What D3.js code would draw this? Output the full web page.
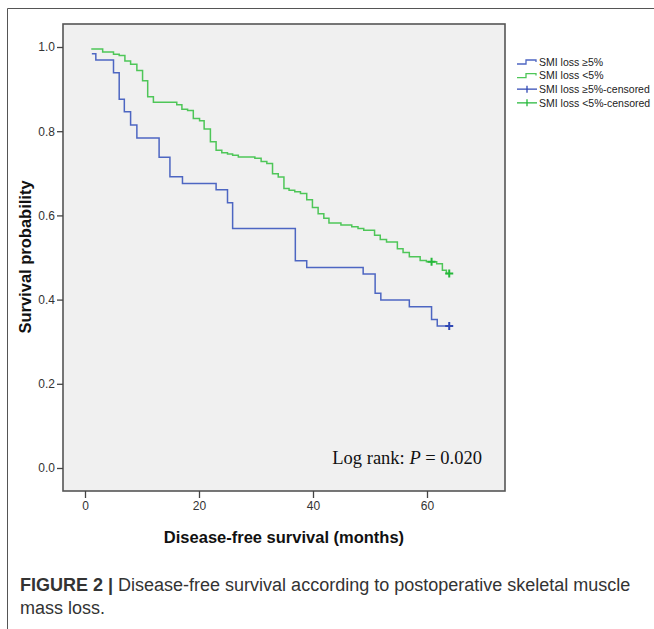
<!DOCTYPE html>
<html>
<head>
<meta charset="utf-8">
<script src="https://cdn.jsdelivr.net/npm/d3@7"></script>
<style>
  body { margin: 0; background: #fff; }
  svg { display: block; }
</style>
</head>
<body>
<div id="chart"></div>
<script>
// KM curves (months, survival probability)
var blueTimes = [1.2, 1.9, 5.0, 6.0, 6.9, 8.0, 9.1, 13.0, 14.9, 17.1, 23.0, 25.0, 25.9, 36.9, 38.9, 48.8, 50.9, 51.9, 56.9, 60.8, 61.8];
var blueSurv = [0.984, 0.969, 0.939, 0.876, 0.846, 0.815, 0.784, 0.738, 0.692, 0.676, 0.661, 0.630, 0.569, 0.492, 0.476, 0.461, 0.415, 0.399, 0.383, 0.353, 0.337];
var blueCensTimes = [63.9];
var blueCensSurv = [0.337];

var greenTimes = [1.1, 3.1, 5.0, 6.0, 7.0, 8.0, 9.1, 10.1, 11.0, 12.0, 16.1, 17.0, 18.0, 19.0, 20.1, 20.9, 22.0, 23.0, 24.0, 25.0,
  25.9, 26.9, 29.8, 30.9, 31.9, 32.9, 33.9, 34.9, 35.8, 36.8, 37.8, 38.9, 39.9, 40.9, 41.9, 42.8, 44.9, 46.8, 47.9, 48.9,
  50.8, 51.8, 52.9, 54.8, 55.8, 56.9, 58.8, 59.9, 61.7, 62.7, 63.4];
var greenSurv = [0.995, 0.988, 0.983, 0.980, 0.967, 0.959, 0.944, 0.920, 0.882, 0.869, 0.863, 0.852, 0.849, 0.830, 0.825, 0.805, 0.775, 0.755, 0.749, 0.746,
  0.743, 0.739, 0.736, 0.728, 0.723, 0.699, 0.691, 0.664, 0.660, 0.656, 0.652, 0.637, 0.619, 0.604, 0.593, 0.582, 0.577, 0.573, 0.569, 0.565,
  0.553, 0.543, 0.537, 0.521, 0.512, 0.502, 0.493, 0.490, 0.485, 0.470, 0.462];
var greenCensTimes = [60.8, 63.9];
var greenCensSurv = [0.490, 0.462];

var xTicks = [0, 20, 40, 60];
var yTicks = [0.0, 0.2, 0.4, 0.6, 0.8, 1.0];
var legendLabels = ["SMI loss \u22655%", "SMI loss <5%", "SMI loss \u22655%-censored", "SMI loss <5%-censored"];

var W = 654, H = 629;
var blueCol = "#4d66c2", greenCol = "#4ec658";
var blueCens = "#3048b4", greenCens = "#25b83a";
var sans = "Liberation Sans, Arial, sans-serif";

var svg = d3.select("#chart").append("svg").attr("width", W).attr("height", H);

// outer figure frame (left + top only)
svg.append("path")
  .attr("d", "M7.5,629 V8.5 H654")
  .attr("fill", "none").attr("stroke", "#555").attr("stroke-width", 1);

// plot panel
var px0 = 63, px1 = 505, py0 = 24, py1 = 491;
svg.append("rect")
  .attr("x", px0).attr("y", py0).attr("width", px1 - px0).attr("height", py1 - py0)
  .attr("fill", "#f0f0f0").attr("stroke", "#555").attr("stroke-width", 1.6);

var x = d3.scaleLinear().domain([0, 60]).range([85, 427]);
var y = d3.scaleLinear().domain([0, 1]).range([468, 47]);

// axes
var yAxis = svg.append("g").attr("transform", "translate(" + px0 + ",0)")
  .call(d3.axisLeft(y).tickValues(yTicks).tickFormat(d3.format(".1f")).tickSize(6).tickPadding(2));
var xAxis = svg.append("g").attr("transform", "translate(0," + py1 + ")")
  .call(d3.axisBottom(x).tickValues(xTicks).tickSize(7).tickPadding(3));
[yAxis, xAxis].forEach(function(a){
  a.select(".domain").remove();
  a.selectAll("line").attr("stroke", "#444").attr("stroke-width", 1.3);
  a.selectAll("text").attr("fill", "#333").style("font-family", sans).style("font-size", "12px");
});

// axis titles
svg.append("text")
  .attr("transform", "translate(31,257) rotate(-90)")
  .attr("text-anchor", "middle")
  .style("font-family", sans).style("font-size", "16.5px").style("font-weight", "bold")
  .attr("fill", "#111")
  .text("Survival probability");
svg.append("text")
  .attr("x", 284).attr("y", 543)
  .attr("text-anchor", "middle")
  .style("font-family", sans).style("font-size", "16.5px").style("font-weight", "bold")
  .attr("fill", "#111")
  .text("Disease-free survival (months)");

// step curves
var line = d3.line().x(function(d){ return x(d[0]); }).y(function(d){ return y(d[1]); }).curve(d3.curveStepAfter);

function curvePts(times, surv, censT){
  var pts = times.map(function(t, i){ return [t, surv[i]]; });
  var lastT = d3.max(censT);
  if (lastT > times[times.length - 1]) pts.push([lastT, surv[surv.length - 1]]);
  return pts;
}

svg.append("path")
  .datum(curvePts(greenTimes, greenSurv, greenCensTimes))
  .attr("d", line).attr("fill", "none").attr("stroke", greenCol).attr("stroke-width", 1.5);
svg.append("path")
  .datum(curvePts(blueTimes, blueSurv, blueCensTimes))
  .attr("d", line).attr("fill", "none").attr("stroke", blueCol).attr("stroke-width", 1.5);

// censor marks
function plus(cx, cy, r){
  return "M" + (cx - r) + "," + cy + "H" + (cx + r) + "M" + cx + "," + (cy - r) + "V" + (cy + r);
}
function censMarks(times, surv, col){
  svg.append("g").selectAll("path")
    .data(times.map(function(t, i){ return [t, surv[i]]; }))
    .enter().append("path")
    .attr("d", function(d){ return plus(x(d[0]), y(d[1]), 4); })
    .attr("stroke", col).attr("stroke-width", 2).attr("fill", "none");
}
censMarks(greenCensTimes, greenCensSurv, greenCens);
censMarks(blueCensTimes, blueCensSurv, blueCens);

// legend
var lg = svg.append("g").attr("transform", "translate(517,62)");
var legCols = [blueCol, greenCol, blueCens, greenCens];
legendLabels.forEach(function(lab, i){
  var g = lg.append("g").attr("transform", "translate(0," + (i * 13.6) + ")");
  if (i < 2) {
    g.append("path").attr("d", "M0,2 H9 V-2 H19 V0")
      .attr("fill", "none").attr("stroke", legCols[i]).attr("stroke-width", 1.3);
  } else {
    g.append("path").attr("d", "M0,0 H20 M10,-3.5 V3.5")
      .attr("fill", "none").attr("stroke", legCols[i]).attr("stroke-width", 1.3);
  }
  g.append("text").attr("x", 22).attr("y", 3.7)
    .style("font-family", sans).style("font-size", "10.5px")
    .attr("fill", "#222")
    .text(lab);
});

// log rank annotation
var ann = svg.append("text")
  .attr("x", 482).attr("y", 464).attr("text-anchor", "end")
  .style("font-family", "Liberation Serif, Times New Roman, serif").style("font-size", "18.5px")
  .attr("fill", "#111");
ann.append("tspan").text("Log rank: ");
ann.append("tspan").style("font-style", "italic").text("P");
ann.append("tspan").text(" = 0.020");

// caption
var cap = svg.append("g")
  .style("font-family", sans).style("font-size", "18px")
  .attr("fill", "#333");
var l1 = cap.append("text").attr("x", 20).attr("y", 591);
l1.append("tspan").style("font-weight", "bold").text("FIGURE 2 | ");
l1.append("tspan").text("Disease-free survival according to postoperative skeletal muscle");
cap.append("text").attr("x", 20).attr("y", 614).text("mass loss.");
</script>
</body>
</html>
